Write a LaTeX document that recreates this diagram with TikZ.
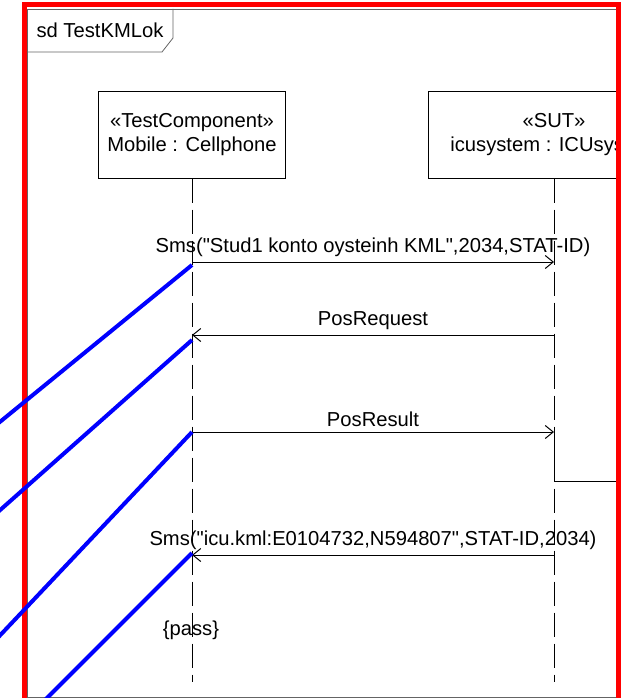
\documentclass[tikz,border=0pt]{standalone}
\usepackage{fontspec}
\setmainfont{Liberation Sans}[Ligatures=TeXOff]
\usetikzlibrary{arrows.meta, positioning}
\definecolor{framegray}{RGB}{100,100,100}

\begin{document}
\begin{tikzpicture}[x=1pt, y=-1pt, font=\fontsize{20.2}{24}\selectfont]
    \tikzstyle{head}=[draw, line width=1pt, minimum height=86pt, align=center, inner sep=0pt]
    \tikzstyle{lifeline}=[line width=1pt, dash pattern=on 24pt off 7pt]
    \tikzstyle{msg}=[line width=1pt, -{Straight Barb[length=8pt,width=13pt]}]
    \tikzstyle{hilite}=[blue, line width=4pt]

    \useasboundingbox (0,0) rectangle (622,698);
    \clip (0,0) rectangle (622,698);

    % Frame and sd tab
    \draw[framegray, line width=0.8pt] (27,9) rectangle (616,697);
    \draw[framegray, line width=0.8pt] (27,52) -- (162,52) -- (173,38) -- (173,9);
    \node[anchor=west] (sd) at (33,30) {sd TestKMLok};

    % Lifeline heads
    \node[head, minimum width=187pt] (mob) at (192,135) {«TestComponent»\\Mobile : Cellphone};
    \begin{scope}
        \clip (27,9) rectangle (616,697);
        \node[head, minimum width=252pt] (icu) at (554,135) {«SUT»\\icusystem : ICUsystem};
    \end{scope}

    % Lifelines
    \coordinate (mobEnd) at (192,682);
    \coordinate (icuEnd) at (554,682);
    \draw[lifeline] (mob.south) -- (mobEnd);
    \draw[lifeline] (icu.south) -- (icuEnd);
    \draw[line width=1pt] (554,451) -- (554,481) -- (616,481);

    % Messages
    \foreach \n/\y in {1/262,2/335,3/432,4/555} {
        \coordinate (m\n) at (192,\y);
        \coordinate (s\n) at (554,\y);
    }
    \draw[msg] (m1) -- node[midway, above=5pt, inner sep=0pt] (l1) {Sms("Stud1 konto oysteinh KML",2034,STAT-ID)} (s1);
    \draw[msg] (s2) -- node[midway, above=5pt, inner sep=0pt] (l2) {PosRequest} (m2);
    \draw[msg] (m3) -- node[midway, above=5pt, inner sep=0pt] (l3) {PosResult} (s3);
    \draw[msg] (s4) -- node[midway, above=5pt, inner sep=0pt] (l4) {Sms("icu.kml:E0104732,N594807",STAT-ID,2034)} (m4);

    \node (pass) at (191,630) {\{pass\}};

    % Red border
    \draw[red, line width=5pt] (24.5,5) rectangle (618.5,720);

    % Blue marks
    \foreach \n/\y/\ex/\ey in {A/265/-10/430, B/340/-10/519, C/432/-10/646, D/553/37/708} {
        \coordinate (p\n) at (192,\y);
        \coordinate (e\n) at (\ex,\ey);
        \draw[hilite] (p\n) -- (e\n);
    }
\end{tikzpicture}
\end{document}
